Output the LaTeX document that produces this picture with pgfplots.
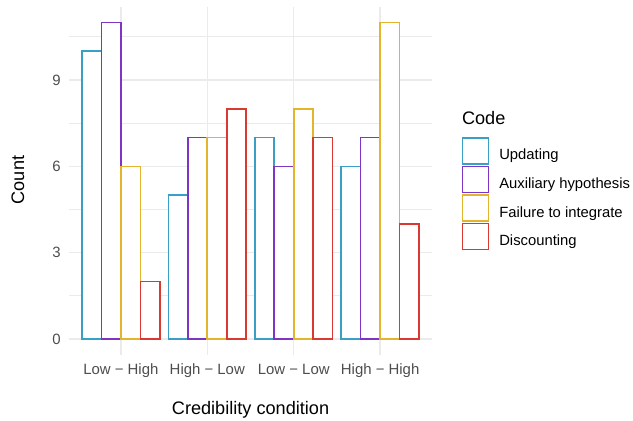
\documentclass[border=0pt]{standalone}
\usepackage{pgfplots}
\pgfplotsset{compat=1.18}
\usepackage{fontspec}
\setmainfont{Liberation Sans}
\definecolor{cUpd}{HTML}{3A9FC4}
\definecolor{cAux}{HTML}{7F35C4}
\definecolor{cFail}{HTML}{E3B52C}
\definecolor{cDisc}{HTML}{D83A31}
\definecolor{gridc}{HTML}{EBEBEB}
\definecolor{tickc}{HTML}{4D4D4D}
\begin{document}
\begin{tikzpicture}
\path[use as bounding box] (0,0) rectangle (474.75pt,315.75pt);
\begin{axis}[
  at={(51.75pt,49.65pt)}, anchor=south west,
  scale only axis, width=272.25pt, height=261.15pt,
  xmin=0.4, xmax=4.6, ymin=-0.55, ymax=11.55,
  axis line style={draw=none},
  ybar, bar width=0.225,
  xtick={1,2,3,4},
  xticklabels={Low − High, High − Low, Low − Low, High − High},
  ytick={0,3,6,9},
  minor ytick={1.5,4.5,7.5,10.5},
  major tick length=0pt, minor tick length=0pt,
  xmajorgrids, ymajorgrids, yminorgrids,
  major grid style={draw=gridc, line width=1.0pt},
  minor grid style={draw=gridc, line width=0.53pt},
  tick label style={font=\fontsize{11.2}{13}\selectfont, text=tickc},
  xticklabel style={inner sep=0pt, anchor=base, yshift=-15.15pt},
  yticklabel style={inner sep=0pt, anchor=east, xshift=-6pt},
  /pgf/number format/assume math mode=true,
  legend style={draw=none, fill=none, at={(axis description cs:1.0818,0.6255)}, anchor=north west,
    row sep=0.75pt, column sep=0pt, inner sep=0pt, outer sep=0pt,
    nodes={inner sep=0pt, outer sep=0pt, font=\fontsize{11.1}{13}\selectfont}},
  legend cell align=left,
  legend image code/.code={\draw[#1, fill=white] (0pt,-6.25pt) rectangle (19.5pt,13.25pt); \path (27pt,0pt);},
  every axis plot/.append style={fill=white, line width=1.2pt},
]
\addplot[draw=cUpd, bar shift=-0.3375] coordinates {(1,10) (2,5) (3,7) (4,6)};
\addlegendentry{Updating}
\addplot[draw=cAux, bar shift=-0.1125] coordinates {(1,11) (2,7) (3,6) (4,7)};
\addlegendentry{Auxiliary hypothesis}
\addplot[draw=cFail, bar shift=0.1125] coordinates {(1,6) (2,7) (3,8) (4,11)};
\addlegendentry{Failure to integrate}
\addplot[draw=cDisc, bar shift=0.3375] coordinates {(1,2) (2,8) (3,7) (4,4)};
\addlegendentry{Discounting}
\end{axis}
\node[anchor=base] at (187.9pt,4.5pt) {\fontsize{13.6}{16}\selectfont Credibility condition};
\node[rotate=90, anchor=base] at (18pt,180.75pt) {\fontsize{13.6}{16}\selectfont Count};
\node[anchor=base west, inner sep=0pt] at (346.3pt,222pt) {\fontsize{13.6}{16}\selectfont Code};
\end{tikzpicture}
\end{document}
